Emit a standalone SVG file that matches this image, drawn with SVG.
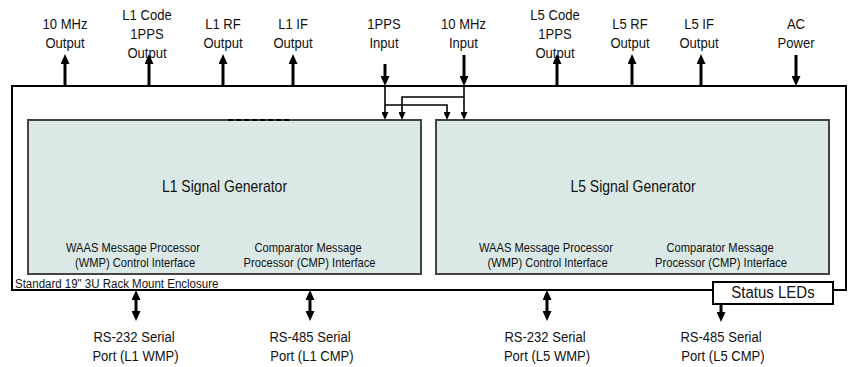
<svg xmlns="http://www.w3.org/2000/svg" width="852" height="367" viewBox="0 0 852 367">
<style>
text{font-family:"Liberation Sans",Arial,sans-serif;fill:#111;text-anchor:middle;transform-box:fill-box;transform-origin:center}
.lab{font-size:14.5px;transform:scaleX(0.9)}
.sub{font-size:12.4px;transform:scaleX(0.9)}
.ttl{font-size:16px;transform:scaleX(0.875)}
.std{font-size:12.5px;text-anchor:start;transform-origin:left center;transform:scaleX(0.92)}
.led{font-size:16.5px;transform:scaleX(0.91)}
.enc{fill:none;stroke:#000;stroke-width:2}
.gen{fill:#dbe9e6;stroke:#444;stroke-width:2}
.thick{stroke:#000;stroke-width:3;fill:none}
.thin{stroke:#000;stroke-width:1.6;fill:none}
</style>
<defs>
<marker id="big" viewBox="0 0 10 10" refX="0" refY="5" markerWidth="10" markerHeight="9" markerUnits="userSpaceOnUse" preserveAspectRatio="none" orient="auto-start-reverse"><path d="M0,0L10,5L0,10z" fill="#000"/></marker>
<marker id="small" viewBox="0 0 10 10" refX="0" refY="5" markerWidth="8" markerHeight="7" markerUnits="userSpaceOnUse" preserveAspectRatio="none" orient="auto"><path d="M0,0L10,5L0,10z" fill="#000"/></marker>
</defs>

<g id="enclosure">
<rect class="enc" x="12" y="86" width="834" height="204"/>
<text class="std" x="15" y="288">Standard 19" 3U Rack Mount Enclosure</text>
</g>

<g id="l1gen">
<rect class="gen" x="28" y="120" width="393" height="154"/>
<line x1="228" y1="120" x2="292" y2="120" stroke="#000" stroke-width="2" stroke-dasharray="5 3"/>
<text class="ttl" x="224.5" y="192">L1 Signal Generator</text>
<text class="sub" x="133" y="252">WAAS Message Processor</text>
<text class="sub" x="135" y="267">(WMP) Control Interface</text>
<text class="sub" x="308" y="252">Comparator Message</text>
<text class="sub" x="309.5" y="267">Processor (CMP) Interface</text>
</g>

<g id="l5gen">
<rect class="gen" x="436" y="120" width="393" height="154"/>
<text class="ttl" x="633" y="192">L5 Signal Generator</text>
<text class="sub" x="546" y="252">WAAS Message Processor</text>
<text class="sub" x="547.5" y="267">(WMP) Control Interface</text>
<text class="sub" x="720" y="252">Comparator Message</text>
<text class="sub" x="721" y="267">Processor (CMP) Interface</text>
</g>

<g id="statusleds">
<rect x="713" y="282" width="120" height="22" fill="#fff" stroke="#000" stroke-width="2"/>
<text class="led" x="773" y="298.5">Status LEDs</text>
</g>

<g id="labels-top">
<text class="lab" x="65" y="29">10 MHz</text><text class="lab" x="65" y="48">Output</text>
<text class="lab" x="147" y="20">L1 Code</text><text class="lab" x="147" y="39">1PPS</text><text class="lab" x="147" y="58">Output</text>
<text class="lab" x="223" y="29">L1 RF</text><text class="lab" x="223" y="48">Output</text>
<text class="lab" x="293" y="29">L1 IF</text><text class="lab" x="293" y="48">Output</text>
<text class="lab" x="384" y="29">1PPS</text><text class="lab" x="384" y="48">Input</text>
<text class="lab" x="463.5" y="29">10 MHz</text><text class="lab" x="463.5" y="48">Input</text>
<text class="lab" x="555" y="20">L5 Code</text><text class="lab" x="555" y="39">1PPS</text><text class="lab" x="555" y="58">Output</text>
<text class="lab" x="630" y="29">L5 RF</text><text class="lab" x="630" y="48">Output</text>
<text class="lab" x="699" y="29">L5 IF</text><text class="lab" x="699" y="48">Output</text>
<text class="lab" x="796" y="29">AC</text><text class="lab" x="796" y="48">Power</text>
</g>

<g id="labels-bottom">
<text class="lab" x="134" y="342">RS-232 Serial</text><text class="lab" x="135.5" y="361">Port (L1 WMP)</text>
<text class="lab" x="310" y="342">RS-485 Serial</text><text class="lab" x="312" y="361">Port (L1 CMP)</text>
<text class="lab" x="545" y="342">RS-232 Serial</text><text class="lab" x="547" y="361">Port (L5 WMP)</text>
<text class="lab" x="721" y="342">RS-485 Serial</text><text class="lab" x="723" y="361">Port (L5 CMP)</text>
</g>

<g id="connectors">
<line class="thick" x1="65" y1="86" x2="65" y2="64" marker-end="url(#big)"/>
<line class="thick" x1="149" y1="86" x2="149" y2="64" marker-end="url(#big)"/>
<line class="thick" x1="223" y1="86" x2="223" y2="64" marker-end="url(#big)"/>
<line class="thick" x1="293" y1="86" x2="293" y2="64" marker-end="url(#big)"/>
<line class="thick" x1="557" y1="86" x2="557" y2="64" marker-end="url(#big)"/>
<line class="thick" x1="632" y1="86" x2="632" y2="64" marker-end="url(#big)"/>
<line class="thick" x1="701" y1="86" x2="701" y2="64" marker-end="url(#big)"/>
<line class="thick" x1="385" y1="64" x2="385" y2="76" marker-end="url(#big)"/>
<line class="thick" x1="464" y1="55" x2="464" y2="76" marker-end="url(#big)"/>
<line class="thick" x1="796" y1="55" x2="796" y2="76" marker-end="url(#big)"/>
<path class="thin" d="M385,86V112" marker-end="url(#small)"/>
<path class="thin" d="M385,105H447V112" marker-end="url(#small)"/>
<path class="thin" d="M464,86V112" marker-end="url(#small)"/>
<path class="thin" d="M464,97H402V112" marker-end="url(#small)"/>
<line class="thick" x1="136" y1="300" x2="136" y2="311" marker-start="url(#big)" marker-end="url(#big)"/>
<line class="thick" x1="310" y1="300" x2="310" y2="311" marker-start="url(#big)" marker-end="url(#big)"/>
<line class="thick" x1="547" y1="300" x2="547" y2="311" marker-start="url(#big)" marker-end="url(#big)"/>
<line class="thick" x1="721" y1="304" x2="721" y2="312" marker-end="url(#big)"/>
</g>
</svg>
